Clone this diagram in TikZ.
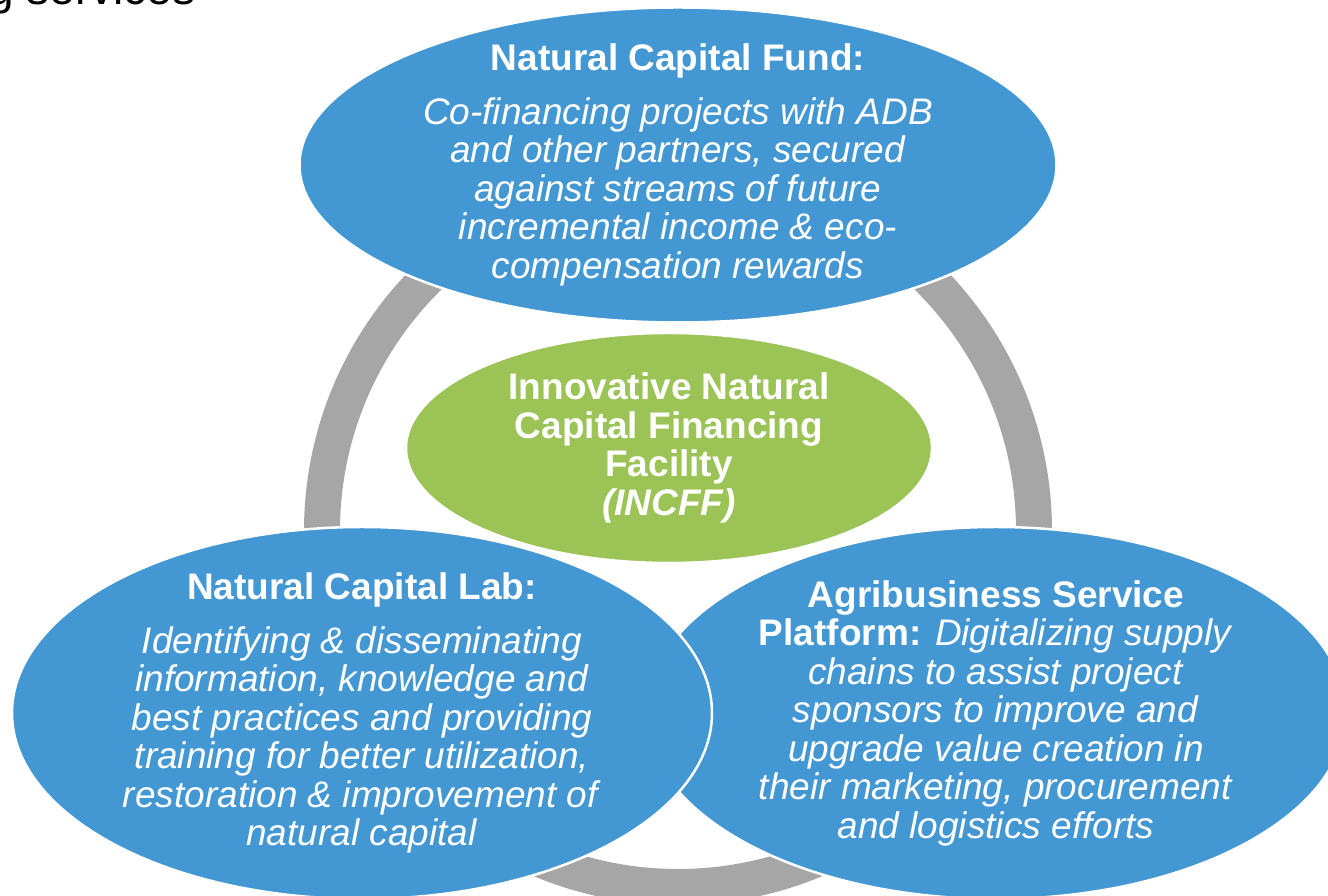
\documentclass[tikz,border=0pt]{standalone}
\usepackage{fontspec}
\setmainfont{Liberation Sans}
\usetikzlibrary{shapes.geometric}

\definecolor{capblue}{RGB}{67,151,211}
\definecolor{capgreen}{RGB}{155,195,85}
\definecolor{ringgray}{RGB}{166,166,166}

\tikzset{
	bubble/.style={ellipse, fill=capblue, draw=white, line width=2.5pt, text=white, align=center, inner sep=-40pt, font=\fontsize{37}{38.5}\selectfont},
	hub/.style={bubble, fill=capgreen},
	ringline/.style={draw=ringgray, line width=36pt}
}

\begin{document}
\begin{tikzpicture}[x=1pt,y=1pt]
	\useasboundingbox (0,0) rectangle (1328,896);

	% cut-off heading
	\node[anchor=base west, inner sep=0pt, font=\fontsize{46}{46}\selectfont] (heading) at (-12,891.5) {g services};

	% ring
	\coordinate (ringc) at (678,365);
	\draw[ringline] (ringc) circle [radius=356];

	%-
	\node[bubble, minimum width=700pt, minimum height=372pt] (platform) at (996,183) {\textbf{Agribusiness Service}\\
		\textbf{Platform:} \textit{Digitalizing supply}\\
		\textit{chains to assist project}\\
		\textit{sponsors to improve and}\\
		\textit{upgrade value creation in}\\
		\textit{their marketing, procurement}\\
		\textit{and logistics efforts}};
	\node[bubble, minimum width=700pt, minimum height=372pt] (lab) at (362,183) {\textbf{Natural Capital Lab:}\\[15pt]
		\textit{Identifying \& disseminating}\\
		\textit{information, knowledge and}\\
		\textit{best practices and providing}\\
		\textit{training for better utilization,}\\
		\textit{restoration \& improvement of}\\
		\textit{natural capital}};
	\node[bubble, minimum width=757pt, minimum height=315pt] (fund) at (678,731) {\textbf{Natural Capital Fund:}\\[15pt]
		\textit{Co-financing projects with ADB}\\
		\textit{and other partners, secured}\\
		\textit{against streams of future}\\
		\textit{incremental income \& eco-}\\
		\textit{compensation rewards}};

	% centre
	\node[hub, minimum width=526pt, minimum height=230pt] (incff) at (669,448) {\textbf{Innovative Natural}\\
		\textbf{Capital Financing}\\
		\textbf{Facility}\\
		\textbf{\textit{(INCFF)}}};
\end{tikzpicture}
\end{document}
